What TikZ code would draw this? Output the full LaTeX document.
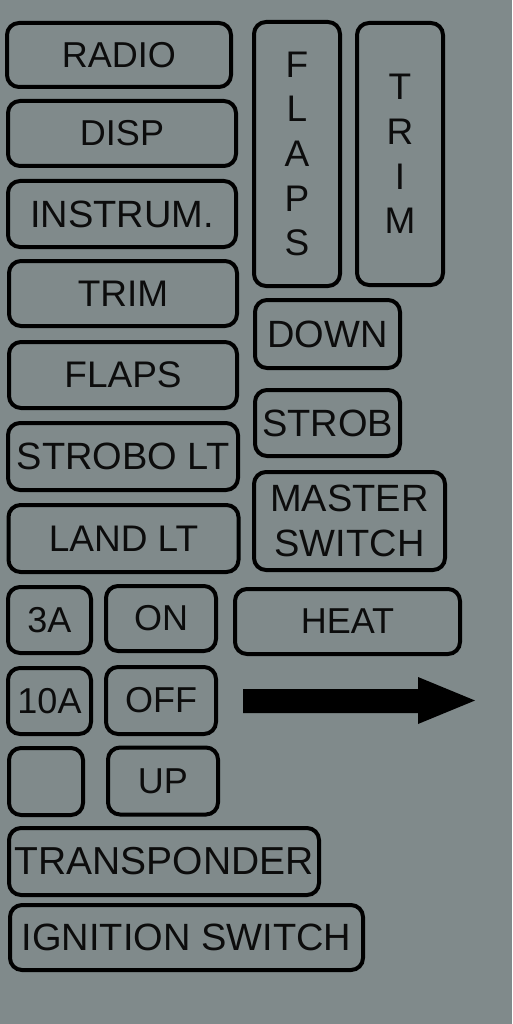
\documentclass[tikz,border=0pt]{standalone}
\usepackage{fontspec}
\setmainfont{Liberation Sans}
\definecolor{bg}{RGB}{128,138,139}
\definecolor{ink}{RGB}{12,12,12}
\begin{document}
\begin{tikzpicture}[x=1pt,y=-1pt,
  fuse/.style={draw=black, line width=4pt, rounded corners=12pt, inner sep=0pt,
    text=ink, font=\fontsize{37}{44.6}\selectfont, align=center},
  fsa/.style={font=\fontsize{36}{44.6}\selectfont},
  fsb/.style={font=\fontsize{38}{45.5}\selectfont},
  fsc/.style={font=\fontsize{39}{44.6}\selectfont},
  sz/.style 2 args={minimum width=#1pt, minimum height=#2pt}]
\fill[bg] (0,0) rectangle (512,1024);
\useasboundingbox (0,0) rectangle (512,1024);
% left column
\node[fuse, fsa, sz={224}{64}] (radio) at (119,55) {RADIO};
\node[fuse, fsa, sz={228}{65}] (disp) at (122,133.5) {DISP};
\node[fuse, fsb, sz={228}{66}] (instrum) at (122,214) {INSTRUM.};
\node[fuse, sz={228}{65}] (trim) at (123,293.5) {TRIM};
\node[fuse, sz={228}{66}] (flaps) at (123,375) {FLAPS};
\node[fuse, fsb, sz={230}{67}] (strobolt) at (123,456.5) {STROBO LT};
\node[fuse, sz={230}{67}] (landlt) at (123.5,538.5) {LAND LT};
% right column
\node[fuse, sz={86}{264}] (flapsv) at (297,154) {F\\L\\A\\P\\S};
\node[fuse, sz={86}{262}] (trimv) at (400,154) {T\\R\\I\\M};
\node[fuse, fsb, sz={145}{68}] (down) at (327.5,334) {DOWN};
\node[fuse, fsb, sz={145}{66}] (strob) at (327.5,423) {STROB};
\node[fuse, fsb, sz={191}{98}] (master) at (349.5,521) {MASTER\\SWITCH};
% small rows
\node[fuse, fsa, sz={83}{66}] (threea) at (49.5,620) {3A};
\node[fuse, fsa, sz={110}{65}] (on) at (161,618.5) {ON};
\node[fuse, fsa, sz={225}{65}] (heat) at (347.5,621.5) {HEAT};
\node[fuse, fsa, sz={83}{66}] (tena) at (49.5,701) {10A};
\node[fuse, fsa, sz={110}{67}] (off) at (161,700.5) {OFF};
\node[fuse, sz={74}{67}] (blank) at (46,781.5) {};
\node[fuse, fsa, sz={110}{67}] (up) at (163,781) {UP};
% bottom rows
\node[fuse, fsc, sz={310}{67}] (transponder) at (164,861.5) {TRANSPONDER};
\node[fuse, fsb, sz={353}{65}] (ignition) at (186.5,937.5) {IGNITION SWITCH};
% arrow
\fill[black] (243,689) -- (418,689) -- (418,677) -- (475,700.5) -- (418,724) -- (418,713) -- (243,713) -- cycle;
\end{tikzpicture}
\end{document}
